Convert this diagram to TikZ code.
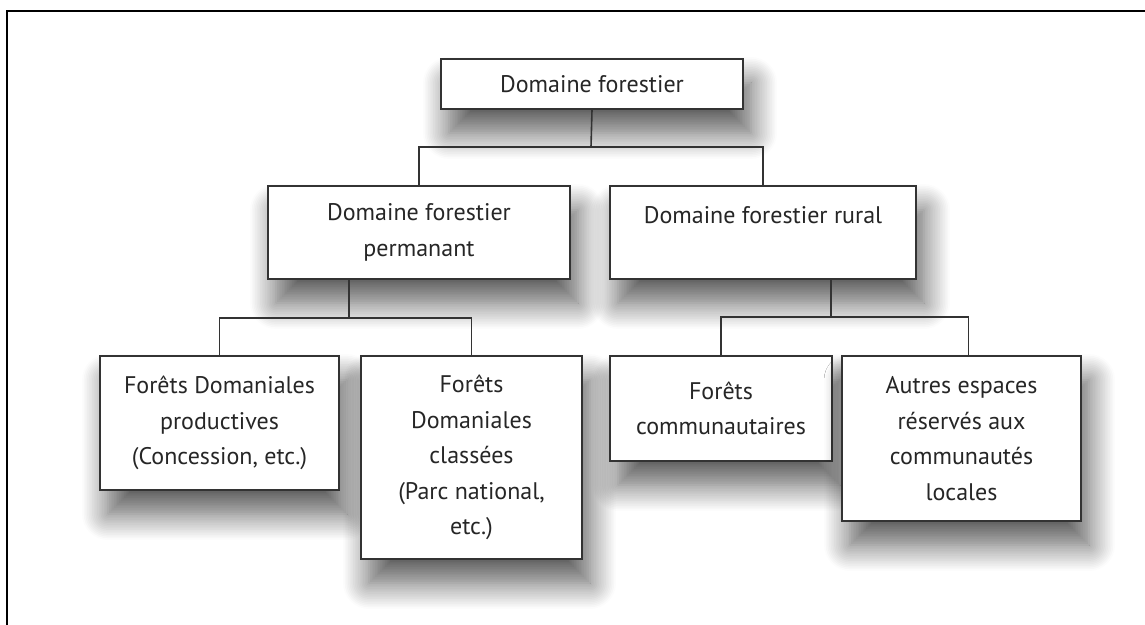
\documentclass[tikz,border=0pt]{standalone}
\usepackage{fontspec}
\setmainfont{PT Sans}
\usetikzlibrary{shadows.blur}
\definecolor{boxline}{HTML}{333333}
\definecolor{txt}{HTML}{262626}
\begin{document}
\begin{tikzpicture}[x=0.5pt,y=-0.5pt,
  every node/.style={font=\fontsize{12}{17.8}\selectfont,text=txt},
  orgbox/.style={draw=boxline,line width=1pt,fill=white,anchor=north west,align=center,inner sep=2pt,
    blur shadow={shadow xshift=4pt,shadow yshift=-12pt,shadow blur radius=13pt,shadow opacity=65,shadow blur steps=16}},
  link/.style={draw=boxline,line width=0.8pt}]
  \useasboundingbox (0,0) rectangle (1145,625);
  % frame
  \draw[line width=1.1pt,black] (7,625) |- (1145,11);
  % boxes
  \node[orgbox,minimum width=151pt,minimum height=25pt] (dom) at (440,58) {Domaine forestier};
  \node[orgbox,minimum width=151pt,minimum height=46.5pt] (perm) at (267,185) {Domaine forestier\\ permanant};
  \node[orgbox,minimum width=153pt,minimum height=46.5pt] (rural) at (609,185) {Domaine forestier rural\\ \mbox{}};
  \node[orgbox,minimum width=119.5pt,minimum height=67pt] (prod) at (99,355) {Forêts Domaniales\\ productives\\ (Concession, etc.)};
  \node[orgbox,minimum width=110.5pt,minimum height=101.5pt] (class) at (360,355) {Forêts\\ Domaniales\\ classées\\ (Parc national,\\ etc.)};
  \node[orgbox,minimum width=111pt,minimum height=52.5pt] (comm) at (609,355) {Forêts\\ communautaires};
  \node[orgbox,minimum width=119.5pt,minimum height=82.5pt] (autres) at (841,355) {Autres espaces\\ réservés aux\\ communautés\\ locales};
  % links
  \coordinate (j1) at (591,147);
  \coordinate (j2) at (349,318);
  \coordinate (j3) at (831,317);
  \draw[link] (dom.south) -- (j1);
  \draw[link] (perm.north) |- (j1) -| (rural.north);
  \draw[link] (j2 |- perm.south) -- (j2);
  \draw[link] (prod.north) |- (j2) -| (class.north);
  \draw[link] (j3 |- rural.south) -- (j3);
  \draw[link] (comm.north) |- (j3) -| ([xshift=3.5pt]autres.north);
\end{tikzpicture}
\end{document}
